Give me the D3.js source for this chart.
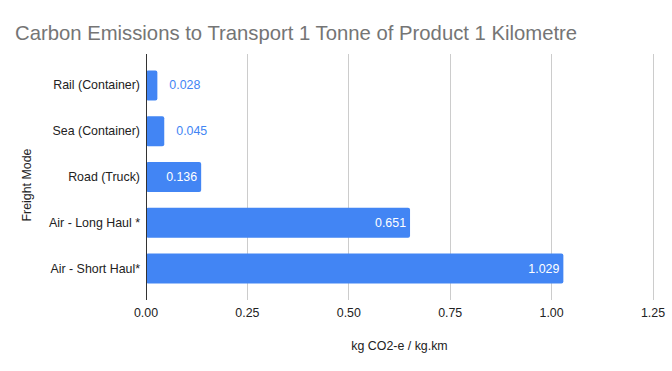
<!DOCTYPE html>
<html>
<head>
<meta charset="utf-8">
<script src="https://cdn.jsdelivr.net/npm/d3@7"></script>
<style>
  body { margin: 0; background: #fff; }
  text { font-family: Arial, "Liberation Sans", sans-serif; }
</style>
</head>
<body>
<div class="canvas"></div>
<script>
// data
const modes = ['Rail (Container)', 'Sea (Container)', 'Road (Truck)', 'Air - Long Haul *', 'Air - Short Haul*'];
const emissions = [0.028, 0.045, 0.136, 0.651, 1.029];
const xTicks = [0, 0.25, 0.5, 0.75, 1.0, 1.25];

const dims = {width: 672, height: 371};
const plot = {left: 146, right: 653, top: 54, bottom: 300};

const svg = d3.select('.canvas').append('svg')
  .attr('width', dims.width)
  .attr('height', dims.height);

const x = d3.scaleLinear().domain([0, 1.25]).range([plot.left, plot.right]);
const y = d3.scaleBand().domain(modes).range([plot.top, plot.bottom])
  .paddingInner(0.345).paddingOuter(0.358);

// title
svg.append('text')
  .attr('x', 15).attr('y', 40)
  .attr('font-size', 20.3).attr('fill', '#757575')
  .text('Carbon Emissions to Transport 1 Tonne of Product 1 Kilometre');

// gridlines
svg.append('g').selectAll('line').data(xTicks.slice(1)).enter().append('line')
  .attr('x1', d => x(d)).attr('x2', d => x(d))
  .attr('y1', plot.top).attr('y2', plot.bottom)
  .attr('stroke', '#cccccc').attr('stroke-width', 1)
  .attr('shape-rendering', 'crispEdges');

// x tick labels
svg.append('g').selectAll('text').data(xTicks).enter().append('text')
  .attr('x', d => x(d)).attr('y', 317)
  .attr('text-anchor', 'middle').attr('font-size', 12.4).attr('fill', '#222')
  .text(d => d3.format('.2f')(d));

// bars
const bars = svg.append('g');
bars.selectAll('rect').data(emissions).enter().append('rect')
  .attr('x', x(0))
  .attr('y', (d, i) => y(modes[i]))
  .attr('width', d => x(d) - x(0))
  .attr('height', y.bandwidth())
  .attr('rx', 2)
  .attr('fill', '#4285f4');

// value labels
const inside = d => x(d) - x(0) > 45;
bars.selectAll('text').data(emissions).enter().append('text')
  .attr('x', d => inside(d) ? x(d) - 4 : x(d) + 12)
  .attr('y', (d, i) => y(modes[i]) + y.bandwidth() / 2 + 4)
  .attr('text-anchor', d => inside(d) ? 'end' : 'start')
  .attr('font-size', 12.4)
  .attr('fill', d => inside(d) ? '#ffffff' : '#4285f4')
  .text(d => d3.format('.3f')(d));

// baseline
svg.append('line')
  .attr('x1', x(0)).attr('x2', x(0))
  .attr('y1', plot.top).attr('y2', plot.bottom)
  .attr('stroke', '#333').attr('stroke-width', 1)
  .attr('shape-rendering', 'crispEdges');

// category labels
svg.append('g').selectAll('text').data(modes).enter().append('text')
  .attr('x', 140)
  .attr('y', d => y(d) + y.bandwidth() / 2 + 4)
  .attr('text-anchor', 'end').attr('font-size', 12.4).attr('fill', '#222')
  .text(d => d);

// axis titles
svg.append('text')
  .attr('x', (plot.left + plot.right) / 2).attr('y', 350)
  .attr('text-anchor', 'middle').attr('font-size', 12.4).attr('fill', '#222')
  .text('kg CO2-e / kg.km');

svg.append('text')
  .attr('transform', `translate(31,${(plot.top + plot.bottom) / 2 + 8}) rotate(-90)`)
  .attr('text-anchor', 'middle').attr('font-size', 12.4).attr('fill', '#222')
  .text('Freight Mode');
</script>
</body>
</html>
